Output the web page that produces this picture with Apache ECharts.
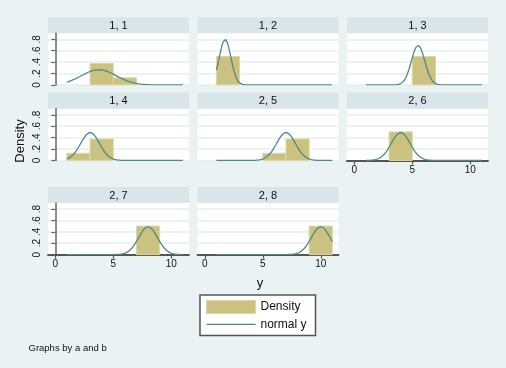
<!DOCTYPE html>
<html>
<head>
<meta charset="utf-8">
<script src="https://cdn.jsdelivr.net/npm/echarts@6/dist/echarts.min.js"></script>
<style>
html,body{margin:0;padding:0;background:#EAF2F3;}
#chart{width:506px;height:368px;}
</style>
</head>
<body>
<div id="chart"></div>
<script>
// ---- data ----
const panelLabels = ['1, 1', '1, 2', '1, 3', '1, 4', '2, 5', '2, 6', '2, 7', '2, 8'];
const binWidth = 2;
const binStarts = [[3, 5], [1], [5], [1, 3], [5, 7], [3], [7], [9]];
const binDensity = [[0.375, 0.125], [0.5], [0.5], [0.125, 0.375], [0.125, 0.375], [0.5], [0.5], [0.5]];
const normMean = [3.75, 1.75, 5.5, 3, 7, 4, 8, 10];
const normSD = [1.5, 0.5, 0.577, 0.816, 0.816, 0.816, 0.816, 0.816];
const curveRange = [1, 11];
const xTicks = [0, 5, 10];
const yTicks = [0, 0.2, 0.4, 0.6, 0.8];
const yTickLabels = ['0', '.2', '.4', '.6', '.8'];

// ---- layout / style ----
const colLeft = [48, 197.5, 347];
const rowTop = [33.3, 108.8, 203];
const plotW = 141, plotH = 51.6, stripH = 16;
const BAR_FILL = '#CBC280', BAR_EDGE = '#DCD6A8', LINE = '#4E8B85';
const FONT = '"Liberation Sans", Arial, Helvetica, sans-serif';

const chart = echarts.init(document.getElementById('chart'), null, {renderer: 'canvas'});

const grids = [], xAxes = [], yAxes = [], series = [], graphics = [];
const positions = [[0,0],[0,1],[0,2],[1,0],[1,1],[1,2],[2,0],[2,1]];
const showX = [false, false, false, false, false, true, true, true];

positions.forEach(([r, c], i) => {
  const left = colLeft[c], top = rowTop[r];
  grids.push({left: left, top: top, width: plotW, height: plotH, show: true,
    backgroundColor: '#FFFFFF', borderWidth: 0, containLabel: false});
  graphics.push({type: 'rect', shape: {x: left, y: top - stripH, width: plotW, height: stripH},
    style: {fill: '#D8E5EB'}, silent: true});
  graphics.push({type: 'text', x: left + plotW / 2, y: top - stripH / 2 + 0.5,
    style: {text: panelLabels[i], fill: '#111', font: '11px ' + FONT, align: 'center', verticalAlign: 'middle'}});
  xAxes.push({type: 'value', gridIndex: i, min: -0.63, max: 11.53,
    axisLine: {show: showX[i], lineStyle: {color: '#555', width: 1.8}},
    axisTick: {show: showX[i], length: 4, lineStyle: {color: '#555', width: 1.2}, customValues: xTicks},
    axisLabel: {show: showX[i], customValues: xTicks, margin: 5, color: '#111', fontSize: 10, fontFamily: FONT},
    splitLine: {show: false}});
  yAxes.push({type: 'value', gridIndex: i, min: 0, max: 0.905, interval: 0.2,
    axisLine: {show: c === 0, lineStyle: {color: '#666', width: 1.5}},
    axisTick: {show: c === 0, length: 4, lineStyle: {color: '#666', width: 1.2}, customValues: yTicks},
    axisLabel: {show: c === 0, customValues: yTicks, rotate: 90, margin: 6, color: '#111', fontSize: 10, fontFamily: FONT,
      formatter: v => { const k = yTicks.findIndex(t => Math.abs(t - v) < 1e-6); return k >= 0 ? yTickLabels[k] : ''; }},
    splitLine: {show: true, lineStyle: {color: '#E6EFF1', width: 1.5}}});

  const bars = binStarts[i].map((s, k) => [s, s + binWidth, binDensity[i][k]]);
  series.push({type: 'custom', name: 'Density', xAxisIndex: i, yAxisIndex: i,
    itemStyle: {color: BAR_FILL},
    renderItem: (params, api) => {
      const p0 = api.coord([api.value(0), api.value(2)]);
      const p1 = api.coord([api.value(1), 0]);
      return {type: 'rect', shape: {x: p0[0], y: p0[1], width: p1[0] - p0[0], height: p1[1] - p0[1]},
        style: {fill: BAR_FILL, stroke: BAR_EDGE, lineWidth: 1}};
    },
    encode: {x: [0, 1], y: 2}, data: bars, z: 2});

  const pts = [];
  const m = normMean[i], s = normSD[i];
  for (let k = 0; k <= 200; k++) {
    const x = curveRange[0] + (curveRange[1] - curveRange[0]) * k / 200;
    pts.push([x, Math.exp(-0.5 * ((x - m) / s) ** 2) / (s * Math.sqrt(2 * Math.PI))]);
  }
  series.push({type: 'line', name: 'normal y', xAxisIndex: i, yAxisIndex: i, data: pts,
    symbol: 'none', showSymbol: false, lineStyle: {color: LINE, width: 1.3}, itemStyle: {color: LINE},
    z: 3, silent: true, animation: false});
});

graphics.push({type: 'text', x: 20, y: 141, rotation: Math.PI / 2,
  style: {text: 'Density', fill: '#111', font: '13px ' + FONT, align: 'center', verticalAlign: 'middle'}});
graphics.push({type: 'text', x: 260, y: 283,
  style: {text: 'y', fill: '#111', font: '13px ' + FONT, align: 'center', verticalAlign: 'middle'}});
graphics.push({type: 'text', x: 28.5, y: 348.3,
  style: {text: 'Graphs by a and b', fill: '#111', font: '9.5px ' + FONT, align: 'left', verticalAlign: 'middle'}});

chart.setOption({
  animation: false,
  backgroundColor: '#EAF2F3',
  grid: grids,
  xAxis: xAxes,
  yAxis: yAxes,
  series: series,
  graphic: graphics,
  legend: {
    left: 200, top: 295, orient: 'vertical',
    padding: [5, 9, 5, 6], itemGap: 4.4, itemWidth: 49, itemHeight: 13,
    backgroundColor: '#FFFFFF', borderColor: '#555', borderWidth: 1.5, borderRadius: 0,
    textStyle: {color: '#111', fontSize: 12, fontFamily: FONT},
    data: [
      {name: 'Density', icon: 'rect', itemStyle: {color: BAR_FILL, borderColor: BAR_EDGE, borderWidth: 1}},
      {name: 'normal y', icon: 'path://M0,0 H100 V2.8 H0 Z', itemStyle: {color: LINE, borderWidth: 0}}
    ]
  }
});
</script>
</body>
</html>
